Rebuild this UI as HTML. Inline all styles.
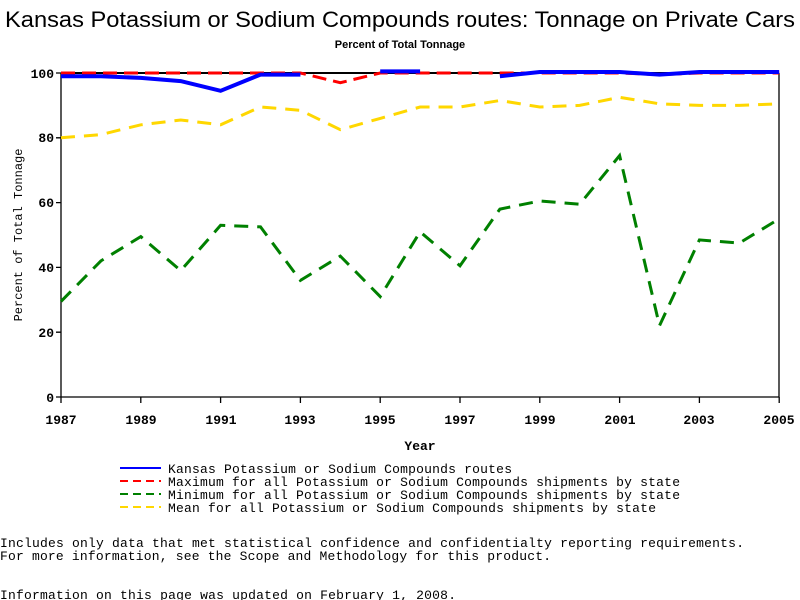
<!DOCTYPE html>
<html><head><style>body{margin:0;background:#fff}svg{display:block}</style></head><body>
<svg width="800" height="600" xmlns="http://www.w3.org/2000/svg">
<rect width="800" height="600" fill="#fff"/>
<text x="400" y="27" text-anchor="middle" font-family="Liberation Sans, sans-serif" font-size="22" textLength="790" lengthAdjust="spacingAndGlyphs">Kansas Potassium or Sodium Compounds routes: Tonnage on Private Cars</text>
<text x="400" y="48" text-anchor="middle" font-family="Liberation Sans, sans-serif" font-size="11" font-weight="bold">Percent of Total Tonnage</text>
<g stroke="#000" stroke-width="1.3" fill="none">
<line x1="61" y1="73" x2="61" y2="397"/><line x1="61" y1="397" x2="779" y2="397"/><line x1="779" y1="73" x2="779" y2="397"/><line x1="61" y1="73" x2="779" y2="73"/>
<path d="M56 397h5M56 332.2h5M56 267.4h5M56 202.6h5M56 137.8h5M56 73h5"/>
<path d="M61 397v6M140.8 397v6M220.6 397v6M300.4 397v6M380.2 397v6M460 397v6M539.8 397v6M619.6 397v6M699.4 397v6M779.2 397v6"/>
</g>
<g font-family="Liberation Mono, monospace" font-size="13" font-weight="bold" text-anchor="end">
<text x="54" y="402">0</text><text x="54" y="337">20</text><text x="54" y="272">40</text><text x="54" y="207">60</text><text x="54" y="142">80</text><text x="54" y="78">100</text>
</g>
<g font-family="Liberation Mono, monospace" font-size="13" font-weight="bold" text-anchor="middle">
<text x="61" y="424">1987</text><text x="141" y="424">1989</text><text x="221" y="424">1991</text><text x="300" y="424">1993</text><text x="380" y="424">1995</text><text x="460" y="424">1997</text><text x="540" y="424">1999</text><text x="620" y="424">2001</text><text x="699" y="424">2003</text><text x="779" y="424">2005</text>
<text x="420" y="450">Year</text>
</g>
<text transform="translate(22,235) rotate(-90)" text-anchor="middle" font-family="Liberation Mono, monospace" font-size="12">Percent of Total Tonnage</text>
<g fill="none" stroke-width="3">
<polyline stroke="#ffd700" stroke-dasharray="14,9" points="61,137.8 100.9,134.6 140.8,124.8 180.7,120 220.6,124.8 260.5,107 300.4,110.3 340.3,129.7 380.2,118.4 420.1,107 460,107 499.9,100.5 539.8,107 579.7,105.4 619.6,97.3 659.5,103.8 699.4,105.4 739.3,105.4 779.2,103.8"/>
<polyline stroke="#008000" stroke-dasharray="14,9" points="61,301.4 100.9,260.9 140.8,236.6 180.7,270.6 220.6,225.3 260.5,226.9 300.4,280.4 340.3,256.1 380.2,296.6 420.1,231.8 460,265.8 499.9,209.1 539.8,201 579.7,204.2 619.6,155.6 659.5,325.7 699.4,239.9 739.3,243.1 779.2,218.8"/>
<line x1="61" y1="73" x2="779" y2="73" stroke="#000" stroke-width="2"/>
<polyline stroke="#ff0000" stroke-dasharray="14,7" points="61,73 300.4,73 340.3,82.7 380.2,73 619.6,73 659.5,74.6 699.4,73 779.2,73"/>
<polyline stroke="#0000ff" stroke-width="4" points="61,76.2 100.9,76.2 140.8,77.9 180.7,81.1 220.6,90.8 260.5,74.6 300.4,74.6"/>
<polyline stroke="#0000ff" stroke-width="4" points="380.2,71.4 420.1,71.4"/>
<polyline stroke="#0000ff" stroke-width="4" points="499.9,76.2 539.8,72 579.7,72 619.6,72 659.5,74.6 699.4,72 739.3,72 779.2,72"/>
</g>
<g stroke-width="2">
<line x1="120" y1="468" x2="161" y2="468" stroke="#0000ff"/>
<line x1="120" y1="481" x2="161" y2="481" stroke="#ff0000" stroke-dasharray="8,5"/>
<line x1="120" y1="494" x2="161" y2="494" stroke="#008000" stroke-dasharray="8,5"/>
<line x1="120" y1="507" x2="161" y2="507" stroke="#ffd700" stroke-dasharray="8,5"/>
</g>
<g font-family="Liberation Mono, monospace" font-size="13">
<text x="168" y="473" textLength="344">Kansas Potassium or Sodium Compounds routes</text>
<text x="168" y="486" textLength="512">Maximum for all Potassium or Sodium Compounds shipments by state</text>
<text x="168" y="499" textLength="512">Minimum for all Potassium or Sodium Compounds shipments by state</text>
<text x="168" y="512" textLength="488">Mean for all Potassium or Sodium Compounds shipments by state</text>
<text x="0" y="547" textLength="744">Includes only data that met statistical confidence and confidentialty reporting requirements.</text>
<text x="0" y="560" textLength="551">For more information, see the Scope and Methodology for this product.</text>
<text x="0" y="599" textLength="456">Information on this page was updated on February 1, 2008.</text>
</g>
</svg>
</body></html>
